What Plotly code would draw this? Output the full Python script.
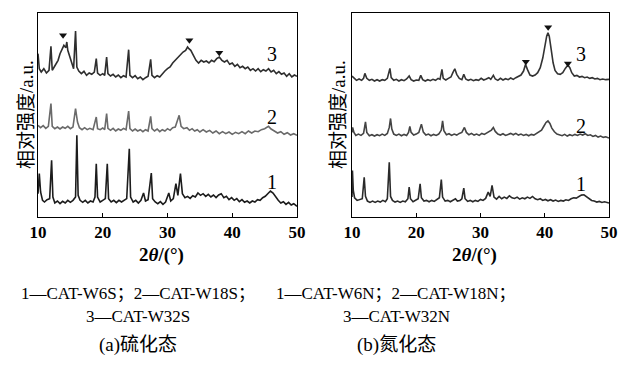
import plotly.graph_objects as go

# ---------------- data ----------------
# (a) sulfided state, intensity in arbitrary units
L1_x = [10.0,10.2,10.4,10.7,11.0,11.4,11.8,12.1,12.3,12.6,13.0,13.4,13.8,14.2,14.6,15.0,15.4,15.8,16.0,16.2,16.5,16.9,17.3,17.7,18.1,18.5,18.8,19.0,19.2,19.6,20.0,20.4,20.7,20.9,21.3,21.7,22.1,22.5,22.9,23.3,23.7,24.1,24.3,24.7,25.1,25.5,25.9,26.3,26.6,27.0,27.5,27.7,28.1,28.5,28.9,29.3,29.7,30.2,30.5,30.9,31.3,31.6,32.0,32.3,32.7,33.1,33.5,33.9,34.3,34.7,35.1,35.5,35.9,36.3,36.7,37.1,37.5,37.9,38.3,38.7,39.1,39.5,39.9,40.3,40.7,41.1,41.5,41.9,42.3,42.7,43.1,43.5,43.9,44.3,44.7,45.1,45.5,45.9,46.3,46.7,47.1,47.5,47.9,48.3,48.7,49.1,49.5,50.0]
L1_y = [70,130,75,50,45,52,55,170,60,42,48,40,47,42,50,44,50,60,245,65,50,44,50,42,48,45,60,160,60,45,50,55,160,55,45,50,43,50,45,50,55,205,60,45,50,42,50,72,48,52,132,55,45,40,46,38,45,72,48,55,100,65,130,70,58,62,56,64,60,72,65,70,62,68,60,66,58,66,70,58,62,52,58,50,55,46,52,44,48,42,48,45,52,50,58,62,70,78,72,60,50,42,46,38,44,36,40,32]

L2_x = [10.0,10.4,10.8,11.2,11.6,12.0,12.2,12.6,13.0,13.4,13.8,14.2,14.6,15.0,15.4,15.8,16.1,16.4,16.8,17.2,17.6,18.0,18.5,19.0,19.2,19.6,20.0,20.3,20.6,20.8,21.2,21.6,22.0,22.4,22.8,23.2,23.6,24.0,24.2,24.6,25.0,25.4,25.8,26.2,26.6,27.0,27.4,27.6,28.0,28.4,28.8,29.2,29.6,30.0,30.4,30.8,31.2,31.8,32.1,32.5,33.0,33.4,33.8,34.2,34.6,35.0,35.5,36.0,36.5,37.0,37.5,38.0,38.5,39.0,39.5,40.0,40.5,41.0,41.5,42.0,42.5,43.0,43.5,44.0,44.5,45.0,45.6,46.0,46.5,47.0,47.5,48.0,48.5,49.0,49.5,50.0]
L2_y = [275,268,274,266,272,340,272,265,270,264,270,266,272,265,270,325,285,268,262,268,262,266,262,300,265,262,267,262,310,266,260,266,258,264,260,266,262,318,265,258,264,258,262,256,262,258,302,265,258,264,256,262,258,265,260,268,270,305,272,265,268,260,265,258,262,255,262,255,260,252,258,250,256,250,255,248,254,250,256,250,258,252,258,256,262,265,272,264,258,252,256,248,253,246,250,245]

L3_x = [10.0,10.2,10.5,10.9,11.3,11.7,12.0,12.2,12.5,12.8,13.1,13.4,13.7,14.0,14.3,14.45,14.6,14.9,15.2,15.5,15.8,16.0,16.3,16.7,17.1,17.5,17.9,18.3,18.7,19.0,19.2,19.6,20.0,20.3,20.6,20.8,21.2,21.6,22.0,22.4,22.8,23.2,23.6,24.0,24.2,24.6,25.0,25.4,25.8,26.2,26.6,27.0,27.4,27.6,28.0,28.4,28.8,29.2,29.6,30.0,30.4,30.8,31.2,31.6,32.0,32.4,32.8,33.1,33.3,33.6,34.0,34.4,34.8,35.2,35.6,36.0,36.4,36.8,37.2,37.6,38.0,38.4,38.8,39.2,39.6,40.0,40.4,40.8,41.2,41.6,42.0,42.4,42.8,43.2,43.6,44.0,44.4,44.8,45.2,45.6,46.0,46.4,46.8,47.2,47.6,48.0,48.4,48.8,49.2,49.6,50.0]
L3_y = [490,445,435,445,432,440,512,440,450,462,470,490,505,515,508,525,500,480,460,445,558,450,438,430,437,425,432,428,435,475,432,425,430,425,480,430,423,428,420,426,418,424,420,502,425,418,424,415,420,412,418,422,473,425,418,424,420,430,438,445,450,462,470,480,488,495,500,510,505,500,485,470,462,470,465,468,462,470,466,475,480,470,465,470,458,462,452,458,448,452,445,450,440,445,438,445,436,442,438,445,435,440,430,436,428,432,422,430,420,426,422]

# (b) nitrided state
R1_x = [10.0,10.07,10.2,10.4,10.8,11.2,11.6,11.9,12.1,12.4,12.8,13.2,13.6,14.0,14.4,14.8,15.2,15.5,15.8,16.0,16.3,16.7,17.1,17.5,17.9,18.3,18.7,18.9,19.1,19.5,19.9,20.3,20.6,20.8,21.2,21.6,22.0,22.4,22.8,23.2,23.6,23.9,24.1,24.5,24.9,25.3,25.7,26.1,26.4,26.8,27.1,27.4,27.6,28.0,28.4,28.8,29.2,29.6,30.0,30.4,30.8,31.2,31.5,31.8,32.1,32.5,32.9,33.3,33.7,34.1,34.5,34.9,35.3,35.7,36.1,36.5,36.9,37.3,37.7,38.1,38.5,38.9,39.3,39.7,40.1,40.5,40.9,41.3,41.7,42.1,42.5,42.9,43.3,43.7,44.1,44.5,44.9,45.3,45.7,46.1,46.5,46.9,47.3,47.7,48.1,48.5,48.9,49.3,49.7,50.0]
R1_y = [60,140,80,58,50,53,55,120,62,48,44,48,44,48,45,50,46,55,165,62,50,45,48,44,48,46,55,90,55,46,50,55,100,58,48,50,46,50,47,52,58,113,60,48,50,46,50,55,48,50,55,87,55,47,50,46,50,47,53,50,56,75,62,95,60,54,62,55,60,56,64,58,56,60,54,58,55,60,56,62,55,52,55,50,53,49,52,48,51,47,50,48,52,50,55,58,57,62,66,67,62,56,50,48,45,47,44,46,43,42]

R2_x = [10.0,10.1,10.3,10.6,11.0,11.4,11.8,12.1,12.3,12.7,13.1,13.5,13.9,14.3,14.7,15.1,15.5,15.8,16.0,16.2,16.5,16.9,17.3,17.7,18.1,18.5,18.8,19.0,19.2,19.6,20.0,20.4,20.8,21.1,21.5,21.9,22.3,22.7,23.1,23.5,23.9,24.1,24.3,24.7,25.1,25.5,25.9,26.3,26.7,27.1,27.5,27.8,28.2,28.6,29.0,29.4,29.8,30.2,30.6,31.0,31.4,31.7,32.0,32.3,32.7,33.1,33.5,33.9,34.3,34.7,35.1,35.5,35.9,36.3,36.7,37.1,37.5,37.9,38.3,38.7,39.1,39.5,39.9,40.2,40.5,40.8,41.1,41.5,41.9,42.3,42.7,43.1,43.5,43.9,44.3,44.7,45.1,45.5,45.9,46.3,46.7,47.1,47.5,47.9,48.3,48.7,49.1,49.5,50.0]
R2_y = [255,270,255,246,250,246,252,287,255,245,248,244,248,245,250,246,252,270,297,265,250,246,250,245,249,246,255,273,255,247,250,255,280,256,247,250,245,249,246,250,262,290,260,248,251,246,250,247,252,255,270,255,248,252,247,250,246,252,249,253,258,262,270,258,250,247,251,246,249,252,248,252,247,250,246,249,245,249,247,252,256,262,275,285,290,282,268,257,250,248,245,249,244,248,245,249,246,250,247,251,246,248,243,246,241,244,240,242,238]

R3_x = [10.0,10.3,10.7,11.1,11.5,11.8,12.0,12.3,12.7,13.1,13.5,13.9,14.3,14.7,15.1,15.5,15.9,16.1,16.5,16.9,17.3,17.7,18.1,18.5,18.9,19.2,19.6,20.0,20.4,20.7,21.0,21.4,21.8,22.2,22.6,23.0,23.4,23.7,24.0,24.2,24.6,25.0,25.4,25.7,26.0,26.3,26.7,27.1,27.4,27.7,28.1,28.5,28.9,29.3,29.7,30.1,30.5,30.9,31.3,31.6,32.0,32.3,32.7,33.1,33.5,33.9,34.3,34.7,35.1,35.5,35.9,36.3,36.7,37.0,37.3,37.7,38.1,38.5,38.9,39.3,39.7,40.0,40.3,40.5,40.7,41.0,41.3,41.6,42.0,42.4,42.8,43.2,43.6,43.9,44.2,44.6,45.0,45.4,45.8,46.2,46.6,47.0,47.4,47.8,48.2,48.6,49.0,49.5,50.0]
R3_y = [425,418,412,416,412,418,433,418,412,415,410,414,410,414,412,418,448,420,412,415,410,414,411,416,425,414,410,413,412,427,414,410,414,411,415,412,418,415,445,418,413,418,422,435,447,430,418,414,430,416,412,415,411,414,412,418,413,416,420,415,427,416,412,418,413,417,414,419,415,420,425,428,440,460,445,428,425,428,435,450,480,520,545,555,545,505,465,442,432,430,435,448,458,450,435,425,427,422,424,420,422,418,420,416,418,414,416,414,415]

# marked peaks (♥)
L_mark_x = [13.87, 33.38, 38.0]
L_mark_y = [545, 530, 493]
R_mark_x = [37.06, 40.53, 43.6]
R_mark_y = [468, 572, 463]

tick_vals = [10, 20, 30, 40, 50]
series_labels = ["1", "2", "3"]
L_label_y = [105, 300, 490]
R_label_y = [100, 275, 490]

caption_a = ["1—CAT-W6S；2—CAT-W18S；", "3—CAT-W32S", "(a)硫化态"]
caption_b = ["1—CAT-W6N；2—CAT-W18N；", "3—CAT-W32N", "(b)氮化态"]

# ---------------- figure ----------------
W, H = 620, 374
SERIF = "Liberation Serif, Times New Roman, Noto Sans CJK SC, serif"

fig = go.Figure()

def line(x, y, color, xa, ya):
    fig.add_trace(go.Scatter(x=x, y=y, mode="lines", xaxis=xa, yaxis=ya,
                             line=dict(color=color, width=1.6), showlegend=False,
                             hoverinfo="skip"))

line(L1_x, L1_y, "#1c1c1c", "x", "y")
line(L2_x, L2_y, "#6a6a6a", "x", "y")
line(L3_x, L3_y, "#2e2e2e", "x", "y")
line(R1_x, R1_y, "#2a2a2a", "x2", "y2")
line(R2_x, R2_y, "#444444", "x2", "y2")
line(R3_x, R3_y, "#333333", "x2", "y2")

for mx, my, xa, ya in ((L_mark_x, L_mark_y, "x", "y"), (R_mark_x, R_mark_y, "x2", "y2")):
    fig.add_trace(go.Scatter(x=mx, y=my, mode="markers", xaxis=xa, yaxis=ya,
                             marker=dict(symbol="triangle-down", size=7, color="#111"),
                             showlegend=False, hoverinfo="skip"))

def px_x(p):
    return p / W

def px_y(p):
    return 1 - p / H

ydom = [px_y(217), px_y(13)]
xcommon = dict(range=[10, 50], tickvals=tick_vals, ticks="inside", ticklen=4,
               tickcolor="black", showline=True, linecolor="black", linewidth=1,
               mirror=True, showgrid=False, zeroline=False, automargin=False,
               tickfont=dict(family=SERIF, size=17, color="black", weight="bold"))
ycommon = dict(showticklabels=False, ticks="", showline=True, linecolor="black",
               linewidth=1, mirror=True, showgrid=False, zeroline=False,
               automargin=False, domain=ydom)

fig.update_layout(
    width=W, height=H, margin=dict(l=0, r=0, t=0, b=0, autoexpand=False),
    paper_bgcolor="white", plot_bgcolor="white",
    xaxis=dict(domain=[px_x(38), px_x(297)], anchor="y", **xcommon),
    yaxis=dict(range=[0, 612], anchor="x", **ycommon),
    xaxis2=dict(domain=[px_x(352), px_x(609)], anchor="y2", **xcommon),
    yaxis2=dict(range=[0, 615], anchor="x2", **ycommon),
)

ann = []
C = dict(xanchor="center", yanchor="middle", showarrow=False)
# series numbers
for lab, yy in zip(series_labels, L_label_y):
    ann.append(dict(x=46.2, y=yy, xref="x", yref="y", text=lab,
                    font=dict(family=SERIF, size=20, color="black"), **C))
for lab, yy in zip(series_labels, R_label_y):
    ann.append(dict(x=45.7, y=yy, xref="x2", yref="y2", text=lab,
                    font=dict(family=SERIF, size=20, color="black"), **C))
# axis titles
for cx in (161, 474):
    ann.append(dict(x=px_x(cx), y=px_y(255), xref="paper", yref="paper",
                    text="<b>2<i>θ</i>/(°)</b>",
                    font=dict(family=SERIF, size=19, color="black"), **C))
for cx in (26, 338):
    ann.append(dict(x=px_x(cx), y=px_y(115), xref="paper", yref="paper",
                    text="相对强度/a.u.", textangle=-90,
                    font=dict(family=SERIF, size=19, color="black"), **C))
# captions
cap_y = [293, 316, 345]
cap_size = [17, 17, 19]
for txt, yy, sz in zip(caption_a, cap_y, cap_size):
    ann.append(dict(x=px_x(138), y=px_y(yy), xref="paper", yref="paper", text=txt,
                    font=dict(family=SERIF, size=sz, color="black"), **C))
for txt, yy, sz in zip(caption_b, cap_y, cap_size):
    ann.append(dict(x=px_x(396), y=px_y(yy), xref="paper", yref="paper", text=txt,
                    font=dict(family=SERIF, size=sz, color="black"), **C))
fig.update_layout(annotations=ann)

fig.write_html("out.html", config={"displayModeBar": False},
               post_script="document.body.style.margin='0';")
